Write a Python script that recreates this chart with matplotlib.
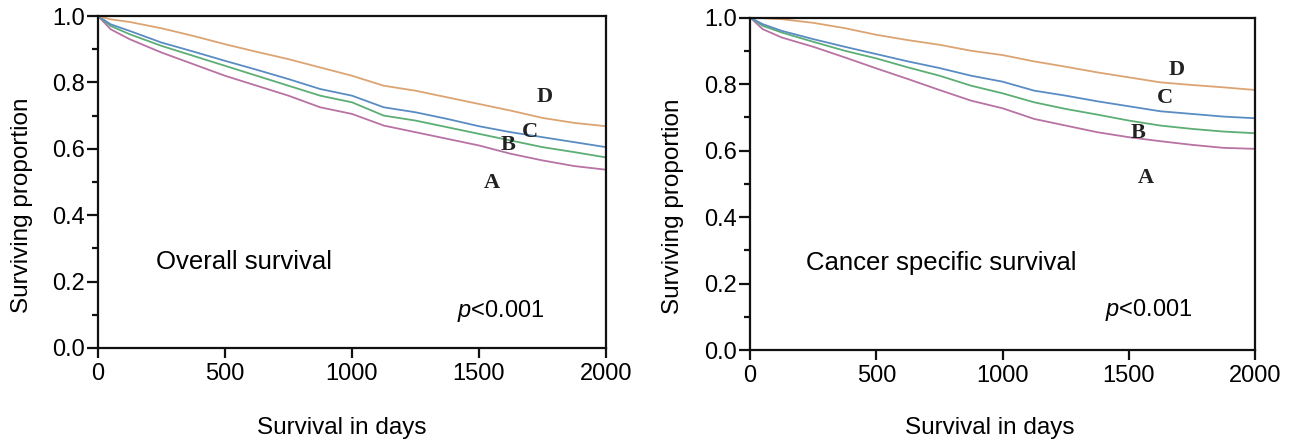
import matplotlib
matplotlib.use("Agg")
import matplotlib.pyplot as plt
from matplotlib.ticker import MultipleLocator

plt.rcParams['font.family'] = ['Liberation Sans', 'DejaVu Sans']
plt.rcParams['mathtext.fontset'] = 'custom'
plt.rcParams['mathtext.it'] = 'Liberation Sans:italic'
plt.rcParams['mathtext.rm'] = 'Liberation Sans'

days = [0, 50, 125, 250, 375, 500, 625, 750, 875, 1000, 1125, 1250, 1375, 1500, 1625, 1750, 1875, 2000]

# Overall survival
os_A = [1.0, 0.96, 0.93, 0.89, 0.855, 0.82, 0.79, 0.76, 0.725, 0.705, 0.67, 0.65, 0.63, 0.61, 0.585, 0.565, 0.548, 0.537]
os_B = [1.0, 0.97, 0.945, 0.91, 0.88, 0.85, 0.82, 0.79, 0.76, 0.74, 0.70, 0.685, 0.665, 0.645, 0.625, 0.605, 0.59, 0.574]
os_C = [1.0, 0.975, 0.955, 0.92, 0.893, 0.865, 0.838, 0.81, 0.78, 0.76, 0.725, 0.71, 0.69, 0.668, 0.65, 0.635, 0.62, 0.605]
os_D = [1.0, 0.99, 0.982, 0.963, 0.94, 0.915, 0.892, 0.87, 0.845, 0.82, 0.79, 0.775, 0.755, 0.735, 0.715, 0.693, 0.678, 0.668]

# Cancer specific survival
css_A = [1.0, 0.965, 0.94, 0.912, 0.88, 0.847, 0.815, 0.782, 0.75, 0.727, 0.695, 0.675, 0.655, 0.64, 0.628, 0.617, 0.608, 0.605]
css_B = [1.0, 0.975, 0.955, 0.927, 0.90, 0.877, 0.85, 0.825, 0.795, 0.772, 0.745, 0.725, 0.708, 0.69, 0.675, 0.665, 0.657, 0.652]
css_C = [1.0, 0.98, 0.96, 0.935, 0.912, 0.89, 0.868, 0.848, 0.825, 0.807, 0.78, 0.765, 0.748, 0.733, 0.718, 0.71, 0.702, 0.697]
css_D = [1.0, 0.998, 0.995, 0.984, 0.968, 0.948, 0.932, 0.918, 0.90, 0.887, 0.868, 0.852, 0.835, 0.82, 0.805, 0.797, 0.79, 0.782]

groups = ['A', 'B', 'C', 'D']
colors = {'A': '#b872a4', 'B': '#5cae74', 'C': '#5a8cc4', 'D': '#dca472'}

os_label_pos = {'D': (1760, 0.755), 'C': (1701, 0.652), 'B': (1614, 0.61), 'A': (1551, 0.497)}
css_label_pos = {'D': (1690, 0.842), 'C': (1644, 0.757), 'B': (1538, 0.652), 'A': (1568, 0.517)}

panels = [
    dict(rect=[0.0759, 0.2127, 0.3935, 0.7511], series={'A': os_A, 'B': os_B, 'C': os_C, 'D': os_D},
         lab=os_label_pos, title='Overall survival', tpos=(228, 0.258), ppos=(1413, 0.11),
         xl=(0.48, -0.24), yl=(-0.15, 0.43)),
    dict(rect=[0.5810, 0.2081, 0.3912, 0.7523], series={'A': css_A, 'B': css_B, 'C': css_C, 'D': css_D},
         lab=css_label_pos, title='Cancer specific survival', tpos=(222, 0.262), ppos=(1406, 0.12),
         xl=(0.474, -0.235), yl=(-0.152, 0.433)),
]

fig = plt.figure(figsize=(12.91, 4.42), dpi=100)

for p in panels:
    ax = fig.add_axes(p['rect'])
    for g in groups:
        ax.plot(days, p['series'][g], color=colors[g], lw=1.3)
    ax.set_xlim(0, 2000)
    ax.set_ylim(0, 1.0)
    ax.set_xticks([0, 500, 1000, 1500, 2000])
    ax.set_yticks([0.0, 0.2, 0.4, 0.6, 0.8, 1.0])
    ax.set_yticklabels(['0.0', '0.2', '0.4', '0.6', '0.8', '1.0'])
    ax.yaxis.set_minor_locator(MultipleLocator(0.1))
    for s in ax.spines.values():
        s.set_linewidth(1.6)
        s.set_color('#111111')
    ax.tick_params(axis='both', which='major', direction='out', length=8, width=1.6,
                   labelsize=17, color='#111111')
    ax.tick_params(axis='y', which='major', pad=1.5)
    ax.tick_params(axis='y', which='minor', direction='out', length=4.5, width=1.6, color='#111111')
    ax.tick_params(axis='x', which='major', length=7, pad=4)
    ax.set_xlabel('Survival in days', fontsize=17.5, va='center')
    ax.xaxis.set_label_coords(*p['xl'])
    ax.set_ylabel('Surviving proportion', fontsize=17.5, va='center')
    ax.yaxis.set_label_coords(*p['yl'])
    ax.text(p['tpos'][0], p['tpos'][1], p['title'], fontsize=18.5, ha='left', va='center')
    ax.text(p['ppos'][0], p['ppos'][1], r'$\mathit{p}$<0.001', fontsize=17, ha='left', va='center')
    for g in groups:
        x, y = p['lab'][g]
        ax.text(x, y, g, fontsize=16, fontweight='bold', family='Liberation Serif',
                ha='center', va='center', color='#222222')

fig.savefig('out.png', dpi=100)
